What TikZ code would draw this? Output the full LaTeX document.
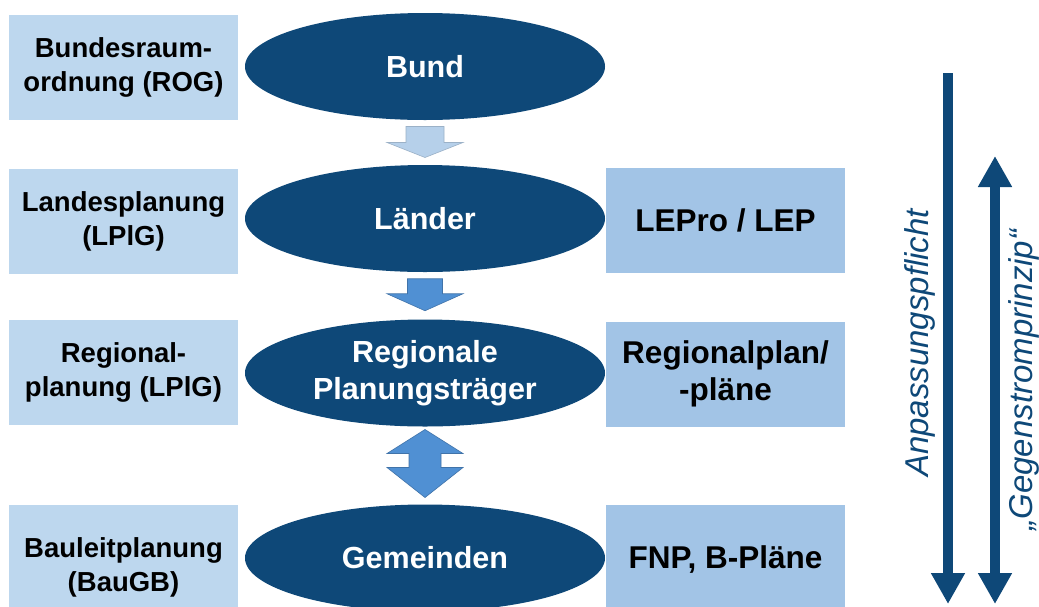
\documentclass[tikz,border=0pt]{standalone}
\usepackage{fontspec}
\setmainfont{Liberation Sans}
\usetikzlibrary{shapes.geometric,arrows.meta}
\definecolor{navy}{HTML}{0E4878}
\definecolor{lawblue}{HTML}{BDD7EE}
\definecolor{planblue}{HTML}{A2C4E6}
\definecolor{paleflow}{HTML}{B6D0EA}
\definecolor{midflow}{HTML}{5090D3}
\tikzset{
  lawbox/.style={fill=lawblue,minimum width=229pt,minimum height=105pt,inner sep=0pt,
    align=center,font=\bfseries\fontsize{27.5}{34}\selectfont},
  planbox/.style={fill=planblue,minimum width=239pt,minimum height=105pt,inner sep=0pt,
    align=center,font=\bfseries\fontsize{31.5}{37}\selectfont},
  level/.style={ellipse,fill=navy,text=white,minimum width=360pt,minimum height=107pt,
    inner sep=0pt,align=center,font=\bfseries\fontsize{30.5}{37}\selectfont},
  sidetext/.style={rotate=90,text=navy,font=\itshape\fontsize{33}{33}\selectfont},
  bigarrow/.style={draw=navy,line width=10pt,
    arrows={-Triangle[width=32pt,length=31pt]}},
  bothways/.style={draw=navy,line width=10pt,
    arrows={Triangle[width=32pt,length=31pt]-Triangle[width=32pt,length=31pt]}}
}
\begin{document}
\begin{tikzpicture}[x=1pt,y=-1pt,line join=miter]
\clip (0,0) rectangle (1039,606);
\fill[white] (0,0) rectangle (1039,606);
% levels
\node[level] (bund) at (425,66.5) {Bund};
\node[level] (laender) at (425,218.5) {Länder};
\node[level] (regio) at (425,373) {Regionale\\Planungsträger};
\node[level] (gemeinden) at (425,558) {Gemeinden};
% laws
\node[lawbox] (rog) at (123.5,67.5) {Bundesraum-\\ordnung (ROG)};
\node[lawbox] (lplg) at (123.5,221) {Landesplanung\\(LPlG)};
\node[lawbox] (reglplg) at (123.5,372.5) {Regional-\\planung (LPlG)};
\node[lawbox,minimum height=124pt] (baugb) at (123.5,567) {Bauleitplanung\\(BauGB)};
% plans
\node[planbox] (lep) at (725.5,220) {LEPro / LEP};
\node[planbox] (regplan) at (725.5,374) {Regionalplan/\\-pläne};
\node[planbox,minimum height=110pt] (fnp) at (725.5,560) {FNP, B-Pläne};
% block arrows between levels
\path (bund.south) -- (laender.north) coordinate[pos=.5] (a1);
\path (laender.south) -- (regio.north) coordinate[pos=.5] (a2);
\path (regio.south) -- (gemeinden.north) coordinate[pos=.5] (a3);
\filldraw[fill=paleflow,draw=paleflow!85!black,line width=.6pt,shift={(a1)}]
  (-19,-16) -- (19,-16) -- (19,0) -- (38,0) -- (0,15) -- (-38,0) -- (-19,0) -- cycle;
\filldraw[fill=midflow,draw=midflow!80!black,line width=.6pt,shift={(a2)}]
  (-17.5,-17) -- (17.5,-17) -- (17.5,-2) -- (38,-2) -- (0,15) -- (-38,-2) -- (-17.5,-2) -- cycle;
\filldraw[fill=midflow,draw=midflow!80!black,line width=.6pt,shift={(a3)}]
  (0,-36) -- (38,-12) -- (16,-12) -- (16,2) -- (38,2) -- (0,32)
  -- (-38,2) -- (-16,2) -- (-16,-12) -- (-38,-12) -- cycle;
% side arrows
\coordinate (dutytop) at (948,73);
\coordinate (dutybot) at (948,604);
\coordinate (flowtop) at (995,156);
\coordinate (flowbot) at (995,604);
\draw[bigarrow] (dutytop) -- (dutybot);
\draw[bothways] (flowtop) -- (flowbot);
\node[sidetext] (duty) at (920,343) {Anpassungspflicht};
\node[sidetext] (counter) at (1024,380) {„Gegenstromprinzip“};
\end{tikzpicture}
\end{document}
